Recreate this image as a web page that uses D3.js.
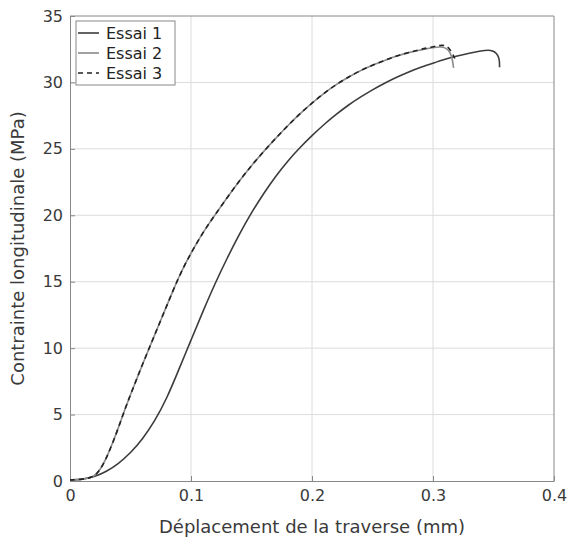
<!DOCTYPE html>
<html><head><meta charset="utf-8">
<script src="https://cdn.jsdelivr.net/npm/d3@7"></script>
<style>
body{margin:0;background:#fff;}
text{font-family:"DejaVu Sans",sans-serif;}
</style></head>
<body><svg id="c" width="571" height="544"></svg>
<script>
const seriesNames = ["Essai 1","Essai 2","Essai 3"];
const essai1 = [[0,0.08],[0.01,0.12],[0.02,0.3],[0.03,0.7],[0.04,1.3],[0.05,2.1],[0.06,3.15],[0.07,4.5],[0.08,6.2],[0.09,8.4],[0.1,10.6],[0.11,12.8],[0.12,14.9],[0.13,16.8],[0.14,18.6],[0.15,20.2],[0.16,21.65],[0.17,22.95],[0.18,24.1],[0.19,25.1],[0.2,26.0],[0.21,26.85],[0.22,27.6],[0.23,28.3],[0.24,28.9],[0.25,29.45],[0.26,29.95],[0.27,30.4],[0.28,30.8],[0.29,31.15],[0.3,31.45],[0.31,31.75],[0.32,32.0],[0.33,32.2],[0.34,32.38],[0.346,32.45],[0.351,32.35],[0.354,32.0],[0.355,31.6],[0.355,31.15]];
const essai2 = [[0,0.08],[0.01,0.12],[0.02,0.3],[0.025,0.85],[0.03,1.7],[0.035,2.8],[0.04,4.0],[0.045,5.3],[0.05,6.5],[0.055,7.65],[0.06,8.8],[0.065,9.9],[0.07,11.0],[0.075,12.1],[0.08,13.2],[0.085,14.3],[0.09,15.35],[0.095,16.3],[0.1,17.15],[0.105,17.95],[0.11,18.7],[0.115,19.4],[0.12,20.05],[0.13,21.35],[0.14,22.6],[0.15,23.75],[0.16,24.8],[0.17,25.8],[0.18,26.75],[0.19,27.65],[0.2,28.45],[0.21,29.2],[0.22,29.85],[0.23,30.4],[0.24,30.9],[0.25,31.3],[0.26,31.65],[0.27,32.0],[0.28,32.25],[0.29,32.45],[0.3,32.62],[0.306,32.7],[0.311,32.6],[0.314,32.3],[0.316,31.8],[0.317,31.1]];
const essai3 = [[0,0.08],[0.01,0.12],[0.02,0.3],[0.025,0.85],[0.03,1.7],[0.035,2.8],[0.04,4.0],[0.045,5.3],[0.05,6.5],[0.055,7.65],[0.06,8.8],[0.065,9.9],[0.07,11.0],[0.075,12.1],[0.08,13.2],[0.085,14.3],[0.09,15.35],[0.095,16.3],[0.1,17.15],[0.105,17.95],[0.11,18.7],[0.115,19.4],[0.12,20.05],[0.13,21.35],[0.14,22.6],[0.15,23.75],[0.16,24.8],[0.17,25.8],[0.18,26.75],[0.19,27.65],[0.2,28.45],[0.21,29.2],[0.22,29.85],[0.23,30.4],[0.24,30.9],[0.25,31.3],[0.26,31.65],[0.27,32.0],[0.28,32.25],[0.29,32.5],[0.3,32.68],[0.306,32.8],[0.31,32.8],[0.314,32.55],[0.318,31.8]];
const xTicks = [0,0.1,0.2,0.3,0.4];
const yTicks = [0,5,10,15,20,25,30,35];
const xLabel = "Déplacement de la traverse (mm)";
const yLabel = "Contrainte longitudinale (MPa)";

const svg = d3.select("#c");
const L=70,R=554,T=16,B=481;
const x = d3.scaleLinear().domain([0,0.4]).range([L,R]);
const y = d3.scaleLinear().domain([0,35]).range([B,T]);

svg.append("g").selectAll("line").data(xTicks.slice(1,-1)).join("line")
  .attr("x1",d=>x(d)).attr("x2",d=>x(d)).attr("y1",T).attr("y2",B)
  .attr("stroke","#dcdcdc").attr("stroke-width",1);
svg.append("g").selectAll("line").data(yTicks.slice(1,-1)).join("line")
  .attr("y1",d=>y(d)).attr("y2",d=>y(d)).attr("x1",L).attr("x2",R)
  .attr("stroke","#dcdcdc").attr("stroke-width",1);

const ax = svg.append("g").attr("transform",`translate(0,${B})`)
  .call(d3.axisBottom(x).tickValues(xTicks).tickFormat(d=>d===0?"0":d3.format(".1f")(d)).tickSizeInner(-5).tickSizeOuter(0).tickPadding(9));
const ay = svg.append("g").attr("transform",`translate(${L},0)`)
  .call(d3.axisLeft(y).tickValues(yTicks).tickSizeInner(-5).tickSizeOuter(0).tickPadding(7));
[ax,ay].forEach(g=>{
  g.select(".domain").attr("stroke","#888");
  g.selectAll(".tick line").attr("stroke","#888");
  g.selectAll(".tick text").attr("fill","#3a3a3a").style("font-size","16px").style("font-family","DejaVu Sans");
});
svg.append("line").attr("x1",L).attr("x2",R).attr("y1",T).attr("y2",T).attr("stroke","#888");
svg.append("line").attr("x1",R).attr("x2",R).attr("y1",T).attr("y2",B).attr("stroke","#888");

const line = d3.line().x(d=>x(d[0])).y(d=>y(d[1])).curve(d3.curveBasis);
const styles = [
  {data:essai1,color:"#3c3c3c",dash:null},
  {data:essai2,color:"#8a8a8a",dash:null},
  {data:essai3,color:"#222",dash:"5,4"}
];
styles.forEach(s=>{
  svg.append("path").attr("d",line(s.data)).attr("fill","none")
    .attr("stroke",s.color).attr("stroke-width",1.6)
    .attr("stroke-dasharray",s.dash);
});

const lg = svg.append("g");
lg.append("rect").attr("x",76).attr("y",21).attr("width",99).attr("height",64)
  .attr("fill","#fff").attr("stroke","#888");
styles.forEach((s,i)=>{
  const yy = 33 + i*20;
  lg.append("line").attr("x1",78).attr("x2",99).attr("y1",yy).attr("y2",yy)
    .attr("stroke",s.color).attr("stroke-width",1.6).attr("stroke-dasharray",s.dash);
  lg.append("text").attr("x",106).attr("y",yy).attr("dy","0.35em")
    .attr("fill","#222").style("font-size","16px").text(seriesNames[i]);
});

svg.append("text").attr("x",(L+R)/2).attr("y",533).attr("text-anchor","middle")
  .attr("fill","#3a3a3a").style("font-size","18px").text(xLabel);
svg.append("text").attr("transform",`translate(24,${(T+B)/2}) rotate(-90)`)
  .attr("text-anchor","middle").attr("fill","#3a3a3a").style("font-size","18px").text(yLabel);
</script></body></html>
